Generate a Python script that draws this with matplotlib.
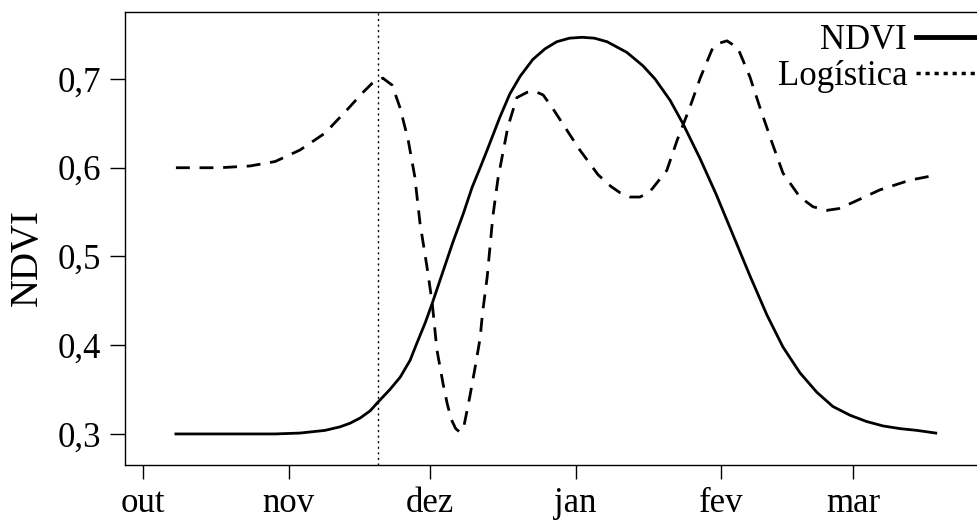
import matplotlib
matplotlib.use("Agg")
import matplotlib.pyplot as plt
from matplotlib.lines import Line2D

# days counted from 1 October
ndvi_days = [7, 20, 28.1, 33.4, 38.7, 41.9, 44.0, 46.2, 48.3, 50.0, 52.5, 54.7,
             56.8, 58.3, 60.0, 61.5, 63.6, 65.9, 68.1, 70.0, 71.7, 73.2, 75.9,
             78.0, 80.2, 82.9, 85.5, 88.0, 90.7, 93.4, 96.0, 98.7, 102.9, 106.3,
             108.9, 112.1, 114.8, 118.5, 121.9, 125.5, 129.1, 132.7, 136.1, 139.7,
             143.3, 146.7, 150.4, 153.9, 157.4, 161.0, 164.6, 168.6]
ndvi_vals = [0.300, 0.300, 0.300, 0.301, 0.304, 0.308, 0.312, 0.318, 0.326, 0.336,
             0.350, 0.364, 0.383, 0.403, 0.425, 0.447, 0.480, 0.516, 0.548, 0.578,
             0.600, 0.620, 0.657, 0.683, 0.703, 0.722, 0.734, 0.742, 0.746, 0.747,
             0.746, 0.742, 0.730, 0.715, 0.700, 0.676, 0.650, 0.610, 0.570, 0.524,
             0.478, 0.434, 0.398, 0.369, 0.347, 0.331, 0.321, 0.314, 0.309, 0.306,
             0.304, 0.301]

deriv_days = [7, 16.4, 22.8, 28.1, 33.4, 38.7, 43.0, 46.8, 48.7, 51.0, 53.0, 54.7,
              56.4, 57.8, 58.9, 60.4, 61.5, 62.5, 63.8, 64.7, 65.6, 66.5, 67.4,
              68.3, 69.5, 70.6, 71.7, 72.2, 73.2, 74.4, 75.5, 77.6, 79.5, 81.7,
              83.4, 85.1, 87.0, 89.7, 92.9, 96.8, 99.5, 101.4, 103.6, 105.7, 107.8,
              111.4, 113.6, 116.3, 118.5, 121.0, 122.3, 124.2, 126.5, 129.1, 131.2,
              133.8, 136.1, 139.7, 142.5, 145.5, 148.0, 151.0, 156.7, 163.1, 168.9]
deriv_vals = [0.600, 0.600, 0.602, 0.607, 0.620, 0.639, 0.663, 0.685, 0.695, 0.701,
              0.693, 0.667, 0.631, 0.590, 0.538, 0.488, 0.448, 0.395, 0.357, 0.334,
              0.316, 0.306, 0.302, 0.310, 0.342, 0.374, 0.408, 0.436, 0.477, 0.545,
              0.588, 0.646, 0.679, 0.685, 0.686, 0.682, 0.668, 0.646, 0.620, 0.592,
              0.579, 0.572, 0.567, 0.567, 0.573, 0.597, 0.631, 0.668, 0.701, 0.733,
              0.740, 0.743, 0.735, 0.702, 0.668, 0.628, 0.594, 0.567, 0.556, 0.552,
              0.554, 0.561, 0.575, 0.586, 0.592]

logistic_day = 50

month_days = [0, 31, 61, 92, 123, 151]
month_labels = ["out", "nov", "dez", "jan", "fev", "mar"]
y_ticks = [0.3, 0.4, 0.5, 0.6, 0.7]
y_labels = ["0,3", "0,4", "0,5", "0,6", "0,7"]

plt.rcParams["font.family"] = ["Liberation Serif", "DejaVu Serif"]

fig = plt.figure(figsize=(9.77, 5.22), dpi=100)
ax = fig.add_axes([125 / 977, 57 / 522, 870 / 977, 453 / 522])

ax.plot(ndvi_days, ndvi_vals, color="black", lw=2.0)
ax.plot(deriv_days, deriv_vals, color="black", lw=2.0, linestyle=(0, (5, 3.5)))
ax.axvline(logistic_day, color="black", lw=1.0, linestyle=(0, (1.5, 2.5)))

ax.set_xlim(-3.83, 181.2)
ax.set_ylim(0.265, 0.7755)
ax.set_xticks(month_days)
ax.set_xticklabels(month_labels)
ax.set_yticks(y_ticks)
ax.set_yticklabels(y_labels)
ax.tick_params(axis="both", labelsize=25, direction="out", width=1.0, colors="black")
ax.tick_params(axis="y", length=11, pad=6)
ax.tick_params(axis="x", length=10, pad=6)
for s in ax.spines.values():
    s.set_linewidth(1.0)

ax.set_ylabel("NDVI", fontsize=28)
ax.yaxis.set_label_coords(-0.091, 0.457)

handles = [Line2D([], [], color="black", lw=3.5),
           Line2D([], [], color="black", lw=2.5, linestyle=(0, (1.2, 1.4)))]
fig.legend(handles, ["NDVI", "Logística"], loc="upper right",
           bbox_to_anchor=(1027 / 977, 1 - 24 / 522), frameon=False,
           markerfirst=False, fontsize=25, handlelength=3.2, handletextpad=0.25,
           labelspacing=0.1, borderpad=0, borderaxespad=0)

fig.savefig("out.png", dpi=100)
